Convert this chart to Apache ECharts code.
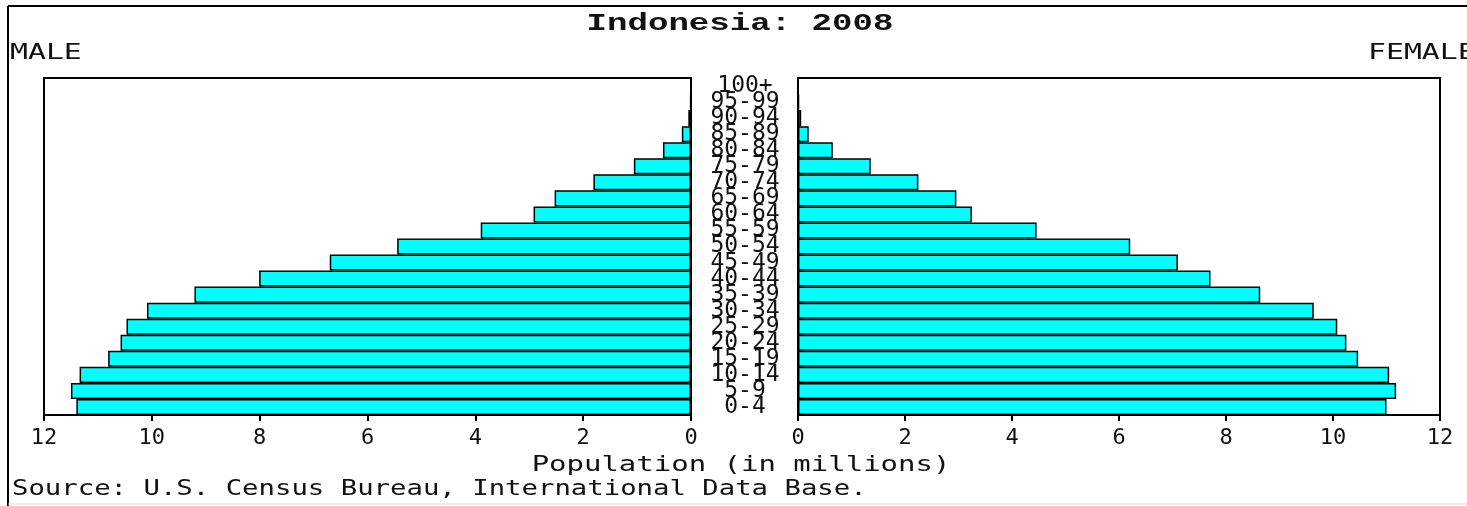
<!DOCTYPE html>
<html>
<head>
<meta charset="utf-8">
<script src="https://cdn.jsdelivr.net/npm/echarts@6/dist/echarts.min.js"></script>
<style>
  html, body { margin: 0; padding: 0; background: #fff; }
  #chart { width: 1467px; height: 506px; }
</style>
</head>
<body>
<div id="chart"></div>
<script>
// Age groups, bottom (youngest) to top (oldest)
var ageGroups = ['0-4','5-9','10-14','15-19','20-24','25-29','30-34','35-39','40-44','45-49',
                 '50-54','55-59','60-64','65-69','70-74','75-79','80-84','85-89','90-94','95-99','100+'];
// Population in millions
var maleValues   = [11.40, 11.50, 11.34, 10.81, 10.58, 10.47, 10.09, 9.21, 8.01, 6.70,
                    5.45, 3.90, 2.92, 2.53, 1.81, 1.06, 0.52, 0.17, 0.05, 0.015, 0.004];
var femaleValues = [11.00, 11.18, 11.05, 10.47, 10.25, 10.08, 9.64, 8.64, 7.71, 7.10,
                    6.21, 4.46, 3.25, 2.96, 2.25, 1.36, 0.65, 0.20, 0.06, 0.02, 0.004];
var xTicks = { min: 0, max: 12, interval: 2 };
var titleText = 'Indonesia: 2008';
var maleLabel = 'MALE';
var femaleLabel = 'FEMALE';
var axisTitle = 'Population (in millions)';
var sourceText = 'Source: U.S. Census Bureau, International Data Base.';

var MONO = 'DejaVu Sans Mono';
var TXT = '#111';
var chart = echarts.init(document.getElementById('chart'));

function xAxisCfg(gridIndex, inverse) {
  return {
    type: 'value', gridIndex: gridIndex, inverse: inverse,
    min: xTicks.min, max: xTicks.max, interval: xTicks.interval,
    axisLine: { show: true, lineStyle: { color: '#000', width: 2 } },
    axisTick: { show: true, length: 6, lineStyle: { color: '#000', width: 2 } },
    splitLine: { show: false },
    axisLabel: { color: TXT, fontFamily: MONO, fontSize: 22, margin: 12 }
  };
}

var barStyle = { color: '#00FFFF', borderColor: '#000', borderWidth: 1.5 };

chart.setOption({
  animation: false,
  backgroundColor: '#fff',
  grid: [
    { left: 44, right: 776, top: 78, bottom: 91, show: true, borderColor: '#000', borderWidth: 2, backgroundColor: 'transparent' },
    { left: 798, right: 27, top: 78, bottom: 91, show: true, borderColor: '#000', borderWidth: 2, backgroundColor: 'transparent' }
  ],
  xAxis: [ xAxisCfg(0, true), xAxisCfg(1, false) ],
  yAxis: [
    {
      type: 'category', gridIndex: 0, data: ageGroups, position: 'right',
      axisLine: { show: false }, axisTick: { show: false },
      axisLabel: { interval: 0, align: 'center', margin: 54, color: TXT, fontFamily: MONO, fontSize: 23 }
    },
    {
      type: 'category', gridIndex: 1, data: ageGroups,
      axisLine: { show: false }, axisTick: { show: false }, axisLabel: { show: false }
    }
  ],
  series: [
    { name: 'Male', type: 'bar', xAxisIndex: 0, yAxisIndex: 0, data: maleValues, barCategoryGap: '0%', itemStyle: barStyle },
    { name: 'Female', type: 'bar', xAxisIndex: 1, yAxisIndex: 1, data: femaleValues, barCategoryGap: '0%', itemStyle: barStyle }
  ],
  graphic: [
    { type: 'line', shape: { x1: 8, y1: 6, x2: 1467, y2: 6 }, style: { stroke: '#000', lineWidth: 2 } },
    { type: 'line', shape: { x1: 8, y1: 6, x2: 8, y2: 506 }, style: { stroke: '#000', lineWidth: 2 } },
    { type: 'line', shape: { x1: 8, y1: 504, x2: 1467, y2: 504 }, style: { stroke: '#d8d8d8', lineWidth: 1 } },
    { type: 'text', x: 740, y: 24, scaleX: 1.42,
      style: { text: titleText, fontFamily: 'Liberation Mono', fontWeight: 'bold', fontSize: 24, fill: TXT, align: 'center', verticalAlign: 'middle' } },
    { type: 'text', x: 10, y: 54, scaleX: 1.42,
      style: { text: maleLabel, fontFamily: MONO, fontSize: 21, fill: TXT, align: 'left', verticalAlign: 'middle' } },
    { type: 'text', x: 1368, y: 54, scaleX: 1.42,
      style: { text: femaleLabel, fontFamily: MONO, fontSize: 21, fill: TXT, align: 'left', verticalAlign: 'middle' } },
    { type: 'text', x: 741, y: 466, scaleX: 1.38,
      style: { text: axisTitle, fontFamily: MONO, fontSize: 21, fill: TXT, align: 'center', verticalAlign: 'middle' } },
    { type: 'text', x: 12, y: 490, scaleX: 1.3,
      style: { text: sourceText, fontFamily: MONO, fontSize: 21, fill: TXT, align: 'left', verticalAlign: 'middle' } }
  ]
});
</script>
</body>
</html>
